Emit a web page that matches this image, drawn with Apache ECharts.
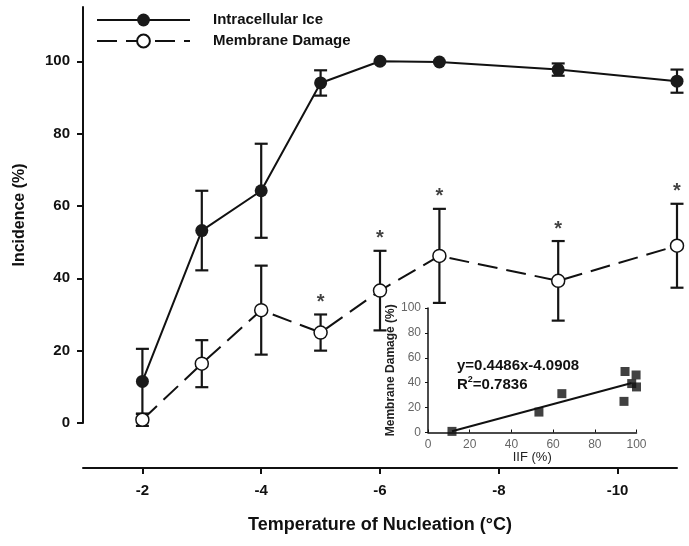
<!DOCTYPE html>
<html><head><meta charset="utf-8">
<script src="https://cdn.jsdelivr.net/npm/echarts@6/dist/echarts.min.js"></script>
<style>html,body{margin:0;padding:0;background:#fff}#c{width:689px;height:546px}</style>
</head><body><div id="c"></div>
<script>
// ---- data ----
const temps = [-2, -3, -4, -5, -6, -7, -9, -11];
const iceMean = [11.5, 53.2, 64.2, 94.0, 100, 99.8, 97.7, 94.5];
const iceErr = [9, 11, 13, 3.5, 0, 0, 1.7, 3.2];
const membMean = [0.9, 16.4, 31.2, 25.0, 36.6, 46.2, 39.3, 49.0];
const membErr = [1.7, 6.5, 12.3, 5.0, 11.0, 13.0, 11.0, 11.6];
const starTemps = [-5, -6, -7, -9, -11];
const xTicks = [-2, -4, -6, -8, -10];
const yTicks = [0, 20, 40, 60, 80, 100];
const insetTicks = [0, 20, 40, 60, 80, 100];
const trendX = [11.5, 97.7];
const trendY = [1.07, 39.74];
const seriesNames = ['Intracellular Ice', 'Membrane Damage'];

const FONT = 'Liberation Sans, Arial, sans-serif';
const chart = echarts.init(document.getElementById('c'), null, {renderer: 'canvas'});

const errData = [];
temps.forEach((t, i) => {
  if (iceErr[i] > 0) errData.push([t, iceMean[i] - iceErr[i], iceMean[i] + iceErr[i]]);
  if (membErr[i] > 0) errData.push([t, membMean[i] - membErr[i], membMean[i] + membErr[i]]);
});
const starData = starTemps.map(t => {
  const i = temps.indexOf(t);
  return [t, membMean[i] + membErr[i]];
});

function renderErr(params, api) {
  const x = api.value(0), lo = api.value(1), hi = api.value(2);
  const a = api.coord([x, lo]), b = api.coord([x, hi]);
  const w = 6.5;
  const st = {stroke: '#151515', lineWidth: 2.2};
  return {type: 'group', children: [
    {type: 'line', shape: {x1: a[0], y1: a[1], x2: b[0], y2: b[1]}, style: st},
    {type: 'line', shape: {x1: a[0] - w, y1: a[1], x2: a[0] + w, y2: a[1]}, style: st},
    {type: 'line', shape: {x1: b[0] - w, y1: b[1], x2: b[0] + w, y2: b[1]}, style: st}
  ]};
}

const option = {
  animation: false,
  backgroundColor: '#fff',
  textStyle: {fontFamily: FONT},
  legend: {
    data: seriesNames,
    orient: 'vertical',
    left: 96, top: 12.5,
    padding: 0,
    itemWidth: 93, itemHeight: 16, itemGap: 6,
    textStyle: {fontFamily: FONT, fontSize: 15, fontWeight: 'bold', color: '#111', padding: [0, 0, 0, 18]}
  },
  grid: [
    {left: 83, right: 12, top: 7, bottom: 123, containLabel: false},
    {left: 428, top: 308, width: 208.5, height: 124.5, containLabel: false}
  ],
  xAxis: [
    {
      type: 'value', gridIndex: 0, min: -11, max: -1, inverse: true, offset: 45,
      axisLine: {onZero: false, lineStyle: {color: '#111', width: 2}},
      axisTick: {show: true, customValues: xTicks, length: 6, lineStyle: {color: '#111', width: 2}},
      axisLabel: {customValues: xTicks, margin: 15, fontSize: 15, fontWeight: 'bold', color: '#111', fontFamily: FONT},
      splitLine: {show: false},
      name: 'Temperature of Nucleation (°C)', nameLocation: 'middle', nameGap: 48,
      nameTextStyle: {fontSize: 18, fontWeight: 'bold', color: '#111', fontFamily: FONT}
    },
    {
      type: 'value', gridIndex: 1, min: 0, max: 100,
      axisLine: {onZero: false, lineStyle: {color: '#111', width: 1.5}},
      axisTick: {show: true, inside: true, length: 3, customValues: insetTicks, lineStyle: {color: '#111'}},
      axisLabel: {customValues: insetTicks, margin: 6, fontSize: 12, color: '#666', fontFamily: FONT},
      splitLine: {show: false},
      name: 'IIF (%)', nameLocation: 'middle', nameGap: 18,
      nameTextStyle: {fontSize: 13, color: '#222', fontFamily: FONT}
    }
  ],
  yAxis: [
    {
      type: 'value', gridIndex: 0, min: 0, max: 115,
      axisLine: {show: true, onZero: false, lineStyle: {color: '#111', width: 2}},
      axisTick: {show: true, customValues: yTicks, length: 6, lineStyle: {color: '#111', width: 2}},
      axisLabel: {customValues: yTicks, margin: 13, fontSize: 15, fontWeight: 'bold', color: '#111', fontFamily: FONT},
      splitLine: {show: false},
      name: 'Incidence (%)', nameLocation: 'middle', nameGap: 55,
      nameTextStyle: {fontSize: 16, fontWeight: 'bold', color: '#111', fontFamily: FONT}
    },
    {
      type: 'value', gridIndex: 1, min: 0, max: 100,
      axisLine: {show: true, onZero: false, lineStyle: {color: '#111', width: 1.5}},
      axisTick: {show: true, length: 3, customValues: insetTicks, lineStyle: {color: '#111'}},
      axisLabel: {customValues: insetTicks, margin: 7, fontSize: 12, color: '#666', fontFamily: FONT},
      splitLine: {show: false},
      name: 'Membrane Damage (%)', nameLocation: 'middle', nameGap: 23,
      nameTextStyle: {fontSize: 12, fontWeight: 'bold', color: '#222', fontFamily: FONT}
    }
  ],
  series: [
    {
      type: 'custom', name: 'err', xAxisIndex: 0, yAxisIndex: 0, renderItem: renderErr,
      data: errData, z: 1, silent: true, clip: false
    },
    {
      type: 'line', name: seriesNames[0], xAxisIndex: 0, yAxisIndex: 0,
      data: temps.map((t, i) => [t, iceMean[i]]),
      symbol: 'circle', symbolSize: 13,
      lineStyle: {color: '#111', width: 2},
      itemStyle: {color: '#1a1a1a', borderColor: '#1a1a1a', borderWidth: 0},
      z: 3
    },
    {
      type: 'line', name: seriesNames[1], xAxisIndex: 0, yAxisIndex: 0,
      data: temps.map((t, i) => [t, membMean[i]]),
      symbol: 'circle', symbolSize: 13,
      lineStyle: {color: '#111', width: 2, type: [20, 9]},
      itemStyle: {color: '#fff', borderColor: '#111', borderWidth: 1.5},
      z: 3
    },
    {
      type: 'scatter', name: 'stars', xAxisIndex: 0, yAxisIndex: 0,
      data: starData, symbol: 'circle', symbolSize: 2, itemStyle: {color: 'rgba(0,0,0,0)'},
      label: {show: true, formatter: '*', position: 'top', distance: 1, fontSize: 20, fontWeight: 'bold', color: '#111', fontFamily: FONT},
      silent: true, z: 4
    },
    {
      type: 'line', name: 'trend', xAxisIndex: 1, yAxisIndex: 1,
      data: trendX.map((x, i) => [x, trendY[i]]),
      symbol: 'none', lineStyle: {color: '#111', width: 2}, z: 3, silent: true
    },
    {
      type: 'scatter', name: 'scatter', xAxisIndex: 1, yAxisIndex: 1,
      data: iceMean.map((v, i) => [v, membMean[i]]),
      symbol: 'rect', symbolSize: 9, itemStyle: {color: '#111'}, z: 4, silent: true
    }
  ],
  graphic: [
    {
      type: 'text', left: 457, top: 356,
      style: {
        text: 'y=0.4486x-4.0908\n{r|R}{s|2}{r|=0.7836}',
        font: 'bold 15px ' + FONT, fill: '#111', lineHeight: 19,
        rich: {
          r: {font: 'bold 15px ' + FONT, fill: '#111', lineHeight: 19},
          s: {font: 'bold 9px ' + FONT, fill: '#111', verticalAlign: 'top', lineHeight: 19, padding: [0, 0, 8, 0]}
        }
      }
    }
  ]
};
chart.setOption(option);
</script>
</body></html>
